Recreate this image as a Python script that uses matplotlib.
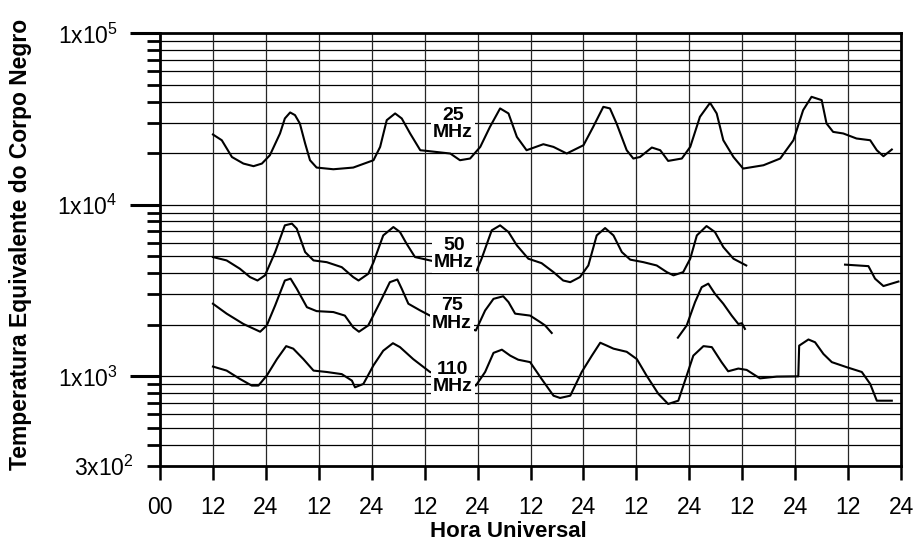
import numpy as np
import matplotlib
matplotlib.use('Agg')
import matplotlib.pyplot as plt
from matplotlib.ticker import FixedLocator, FuncFormatter

plt.rcParams['font.family'] = ['Liberation Sans', 'DejaVu Sans']
plt.rcParams['mathtext.fontset'] = 'custom'
plt.rcParams['mathtext.rm'] = 'Liberation Sans'
plt.rcParams['mathtext.it'] = 'Liberation Sans:italic'
plt.rcParams['mathtext.bf'] = 'Liberation Sans:bold'
plt.rcParams['mathtext.default'] = 'regular'

# Data (hours UT, equivalent black-body temperature K)
h25 = [12, 14.0, 16.3, 18.9, 21.2, 23.1, 24.9, 27.2, 28.3, 29.5, 30.6, 31.7, 32.9, 34.0, 35.5, 39.3,
       43.8, 48.4, 49.9, 51.4, 53.3, 54.8, 56.7, 59.0, 60.5, 65.8, 68.0, 70.3, 72.6, 74.8, 77.1, 79.0,
       80.9, 83.1, 86.9, 89.2, 92.2, 96.0, 98.2, 100.5, 102.0, 103.5, 105.8, 107.3, 108.8, 111.5, 113.4,
       115.2, 118.3, 120.2, 122.4, 124.7, 126.2, 127.7, 130.0, 132.2, 136.8, 140.6, 143.6, 145.8, 147.7,
       150.0, 151.1, 152.6, 154.9, 157.9, 161.0, 162.5, 164.0, 165.9]
t25 = [25700, 23800, 19000, 17400, 16800, 17400, 19450, 26060, 31880, 34560, 33340, 29800, 22780, 18200,
       16490, 16120, 16490, 18200, 21760, 31160, 34100, 31880, 26060, 20810, 20620, 19910, 18200, 18620,
       21760, 28470, 36480, 34100, 24890, 20810, 22560, 21760, 19910, 22260, 28470, 37260, 36480, 29800,
       20810, 18620, 19000, 21580, 20810, 18030, 18620, 21760, 32580, 39330, 34100, 23800, 19000, 16270,
       17010, 18620, 23800, 35650, 42630, 40780, 29800, 26620, 26060, 24360, 23800, 20810, 19200, 21010]

h50a = [12, 15.1, 18.1, 20.4, 22.1, 23.8, 26.1, 28.3, 29.9, 31.0, 32.9, 34.8, 37.8, 41.2, 43.8, 45.0,
        47.2, 48.4, 50.6, 52.9, 54.4, 55.9, 57.8, 61.2, 66.9, 71.8, 72.9, 75.2, 77.1, 79.0, 80.9, 83.5,
        86.5, 89.2, 91.4, 93.0, 95.2, 97.1, 99.0, 100.9, 102.8, 104.7, 106.6, 109.6, 112.6, 114.9, 116.4,
        118.6, 120.2, 121.7, 123.9, 125.8, 127.7, 130.0, 132.9]
t50a = [4960, 4740, 4240, 3790, 3620, 3880, 5300, 7590, 7770, 7260, 5300, 4740, 4630, 4330, 3790, 3620,
        3960, 4630, 6630, 7420, 6940, 5930, 4960, 4740, 4430, 4140, 4850, 7100, 7590, 6940, 5800, 4850,
        4570, 4050, 3620, 3540, 3790, 4430, 6630, 7320, 6630, 5300, 4790, 4630, 4430, 4050, 3880, 4050,
        4850, 6630, 7520, 6940, 5670, 4850, 4430]
h50b = [155.3, 160.6, 162.1, 164.0, 167.4]
t50b = [4480, 4390, 3710, 3360, 3570]

h75a = [12, 15.1, 18.9, 22.7, 24.2, 26.1, 28.3, 29.6, 31.0, 33.3, 35.5, 39.3, 41.9, 43.8, 45.1, 47.2,
        49.9, 52.1, 53.8, 54.8, 56.3, 59.0, 61.2, 71.6, 73.7, 75.6, 77.8, 79.0, 80.5, 83.9, 86.2, 87.3, 88.8]
t75a = [2650, 2320, 2020, 1820, 1980, 2590, 3620, 3710, 3240, 2530, 2400, 2370, 2260, 1930, 1820, 1980,
        2710, 3540, 3670, 3240, 2650, 2420, 2260, 1850, 2420, 2830, 2930, 2710, 2320, 2260, 2070, 1980, 1790]
h75b = [117.4, 119.4, 121.3, 122.8, 124.3, 125.8, 127.7, 129.6, 131.1, 131.9, 132.6]
t75b = [1680, 1980, 2710, 3310, 3470, 3030, 2650, 2260, 2020, 2040, 1890]

h110 = [12, 15.1, 18.1, 20.8, 22.3, 24.2, 26.5, 28.6, 30.2, 32.5, 34.8, 37.8, 41.2, 43.5, 44.2, 46.1,
        48.4, 50.6, 52.8, 54.4, 57.4, 61.2, 71.6, 73.7, 75.6, 77.5, 79.4, 81.2, 83.9, 86.5, 89.2, 90.7,
        93.0, 95.6, 97.9, 99.8, 101.3, 102.8, 105.8, 108.1, 110.3, 113.0, 115.2, 117.5, 119.4, 120.9,
        123.2, 125.1, 127.3, 128.8, 131.1, 133.0, 136.0, 139.8, 144.7, 144.9, 147.0, 148.5, 150.4, 152.3,
        155.7, 159.1, 161.0, 162.5, 165.9]
t110 = [1140, 1080, 966, 883, 883, 1010, 1260, 1500, 1450, 1260, 1080, 1060, 1030, 944, 863, 903,
        1160, 1410, 1560, 1480, 1260, 1060, 883, 1060, 1370, 1430, 1320, 1250, 1210, 966, 771, 748,
        771, 1060, 1320, 1570, 1510, 1450, 1390, 1260, 1010, 789, 690, 721, 1010, 1320, 1500, 1480,
        1210, 1070, 1110, 1090, 973, 996, 1000, 1510, 1640, 1580, 1350, 1210, 1130, 1060, 903, 721, 721]

labels = ['25\nMHz', '50\nMHz', '75\nMHz', '110\nMHz']
label_h = [66.4, 66.6, 66.2, 66.4]
label_t = [29500, 5180, 2290, 976]

xticks = list(range(0, 169, 12))
xticklabels = ['00'] + ['12' if (h // 12) % 2 == 1 else '24' for h in xticks[1:]]

fig = plt.figure(figsize=(9.16, 5.46), dpi=100)
ax = fig.add_axes([0.1747, 0.1465, 0.8090, 0.7925])
ax.set_yscale('log')
ax.set_xlim(0, 168)
ax.set_ylim(300, 1e5)

# grid
for v in [400, 500, 600, 700, 800, 900, 1000, 2000, 3000, 4000, 5000, 6000, 7000, 8000, 9000,
          1e4, 2e4, 3e4, 4e4, 5e4, 6e4, 7e4, 8e4, 9e4]:
    ax.axhline(v, color='black', lw=0.9, zorder=1)
for h in xticks[1:-1]:
    ax.axvline(h, color='0.15', lw=0.9, zorder=1)

for hh, tt in [(h25, t25), (h50a, t50a), (h50b, t50b), (h75a, t75a), (h75b, t75b), (h110, t110)]:
    ax.plot(hh, tt, color='black', lw=1.5, zorder=3)

for lab, lh, lt in zip(labels, label_h, label_t):
    ax.text(lh, lt, lab, ha='center', va='center', fontsize=14, fontweight='bold',
            linespacing=1.02, zorder=5,
            bbox=dict(boxstyle='square,pad=0.12', fc='white', ec='none'))

ax.xaxis.set_major_locator(FixedLocator(xticks))
ax.set_xticklabels(xticklabels)
ax.yaxis.set_major_locator(FixedLocator([1e3, 1e4, 1e5]))
ax.yaxis.set_major_formatter(FuncFormatter(lambda v, p: '1x10$^{%d}$' % round(np.log10(v))))
minors = [300] + [m * 10 ** k for k in (2, 3, 4) for m in range(2, 10) if m * 10 ** k > 300]
ax.yaxis.set_minor_locator(FixedLocator(minors))
ax.yaxis.set_minor_formatter(FuncFormatter(lambda v, p: '3x10$^{2}$' if abs(v - 300) < 1 else ''))

ax.tick_params(axis='x', direction='out', length=10, width=1.8, pad=11.5, labelsize=16.5)
ax.tick_params(axis='y', which='major', direction='out', length=21.5, width=2.2, pad=9, labelsize=16.5)
ax.tick_params(axis='y', which='minor', direction='out', length=9.5, width=2.0, pad=9, labelsize=16.5)

for s in ax.spines.values():
    s.set_linewidth(2.0)
    s.set_zorder(6)

ax.set_xlabel('Hora Universal', fontsize=16, fontweight='bold')
ax.set_ylabel('Temperatura Equivalente do Corpo Negro', fontsize=16.5, fontweight='bold')
ax.xaxis.set_label_coords(0.47, -0.126)
ax.yaxis.set_label_coords(-0.173, 0.513)

plt.savefig('out.png', dpi=100)
